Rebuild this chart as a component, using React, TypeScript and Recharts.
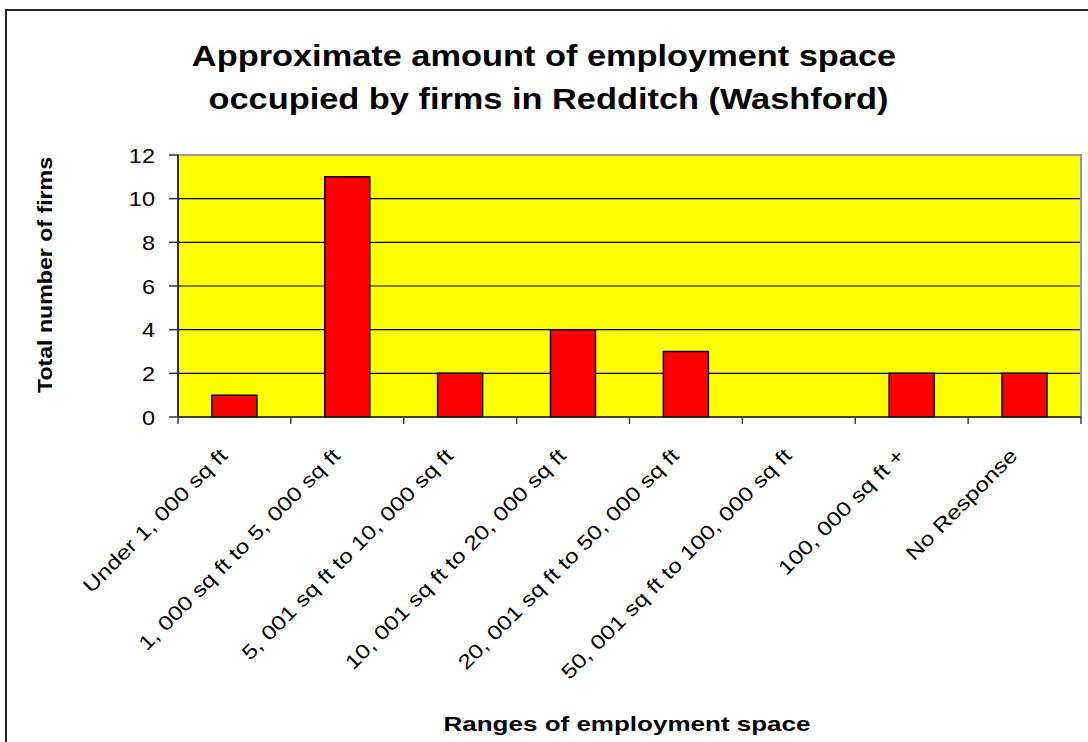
import React from 'react';
import { BarChart, Bar, XAxis, YAxis, CartesianGrid, ReferenceArea } from 'recharts';

const categories = [
  'Under 1, 000 sq ft',
  '1, 000 sq ft to 5, 000 sq ft',
  '5, 001 sq ft to 10, 000 sq ft',
  '10, 001 sq ft to 20, 000 sq ft',
  '20, 001 sq ft to 50, 000 sq ft',
  '50, 001 sq ft to 100, 000 sq ft',
  '100, 000 sq ft +',
  'No Response',
];
const firms = [1, 11, 2, 4, 3, 0, 2, 2];
const yTicks = [0, 2, 4, 6, 8, 10, 12];
const titleLines = [
  'Approximate amount of employment space',
  'occupied by firms in Redditch (Washford)',
];
const yAxisTitle = 'Total number of firms';
const xAxisTitle = 'Ranges of employment space';

const data = categories.map((c, i) => ({ category: c, firms: firms[i] }));

const FONT = 'Arial, "Liberation Sans", Helvetica, sans-serif';
const W = 1088;
const H = 742;

function XTick(props: any) {
  const { x, y, payload, index, visibleTicksCount } = props;
  const off = payload && payload.offset ? payload.offset : 56.4;
  const bx = x - 6;
  const by = y + 40;
  const last = index === (visibleTicksCount ?? categories.length) - 1;
  return (
    <g>
      <line x1={x - off} y1={y} x2={x - off} y2={y + 7} stroke="#404040" strokeWidth={1.5} />
      {last && <line x1={x + off} y1={y} x2={x + off} y2={y + 7} stroke="#404040" strokeWidth={1.5} />}
      <text
        x={0}
        y={0}
        transform={`translate(${bx},${by}) rotate(-45) scale(1.22,1)`}
        textAnchor="end"
        fontFamily={FONT}
        fontSize={20}
        fill="#000"
      >
        {payload.value}
      </text>
    </g>
  );
}

function YTick(props: any) {
  const { x, y, payload } = props;
  return (
    <text
      x={0}
      y={0}
      transform={`translate(${x},${y}) scale(1.12,1)`}
      dy="0.36em"
      textAnchor="end"
      fontFamily={FONT}
      fontSize={21}
      fill="#000"
    >
      {payload.value}
    </text>
  );
}

export default function App() {
  return (
    <div style={{ position: 'absolute', left: 0, top: 0, width: W, height: H, overflow: 'hidden', background: '#fff' }}>
      <div
        style={{
          position: 'absolute',
          left: 5,
          top: 9,
          width: W + 20,
          height: H + 20,
          borderLeft: '2px solid #222',
          borderTop: '2px solid #222',
        }}
      />
      <div style={{ position: 'absolute', left: 0, top: 0 }}>
        <BarChart
          width={W}
          height={H}
          data={data}
          margin={{ top: 155, right: 7, bottom: 0, left: 118 }}
          barCategoryGap="30%"
        >
          <CartesianGrid vertical={false} stroke="#000" strokeWidth={1.2} fill="#FFFF00" fillOpacity={1} />
          <ReferenceArea y1={0} y2={12} fill="none" stroke="#9a9a9a" strokeWidth={2} ifOverflow="visible" />
          <XAxis
            dataKey="category"
            height={325}
            interval={0}
            tickLine={false}
            tickSize={0}
            tickMargin={0}
            axisLine={{ stroke: '#222', strokeWidth: 1.5 }}
            tick={<XTick />}
          />
          <YAxis
            width={60}
            domain={[0, 12]}
            ticks={yTicks}
            interval={0}
            tickSize={9}
            tickMargin={14}
            axisLine={{ stroke: '#333', strokeWidth: 2 }}
            tickLine={{ stroke: '#333', strokeWidth: 1.5 }}
            tick={<YTick />}
          />
          <Bar dataKey="firms" fill="#FF0000" stroke="#000" strokeWidth={1.5} isAnimationActive={false} />
        </BarChart>
      </div>
      <svg width={W} height={H} style={{ position: 'absolute', left: 0, top: 0, pointerEvents: 'none' }}>
        <text x={0} y={0} transform="translate(544,66) scale(1.185,1)" textAnchor="middle" fontFamily={FONT} fontWeight="bold" fontSize={29}>
          {titleLines[0]}
        </text>
        <text x={0} y={0} transform="translate(548.5,109) scale(1.185,1)" textAnchor="middle" fontFamily={FONT} fontWeight="bold" fontSize={29}>
          {titleLines[1]}
        </text>
        <text x={0} y={0} transform="translate(52,275) rotate(-90)" textAnchor="middle" fontFamily={FONT} fontWeight="bold" fontSize={20} textLength={236} lengthAdjust="spacingAndGlyphs">
          {yAxisTitle}
        </text>
        <text x={627} y={731} textAnchor="middle" fontFamily={FONT} fontWeight="bold" fontSize={21} textLength={367} lengthAdjust="spacingAndGlyphs">
          {xAxisTitle}
        </text>
      </svg>
    </div>
  );
}
